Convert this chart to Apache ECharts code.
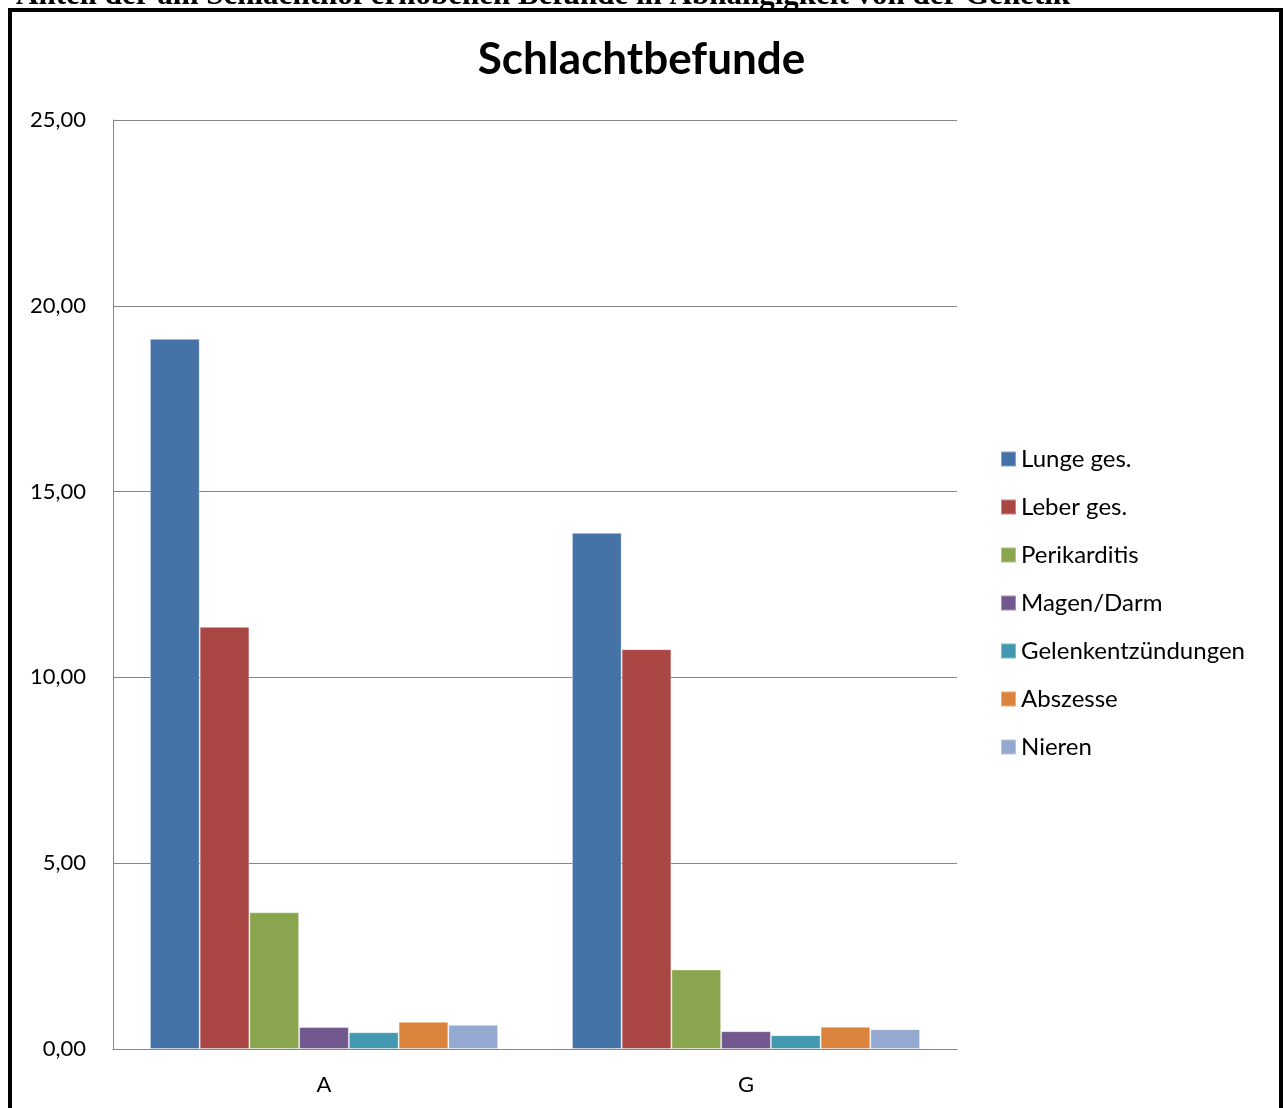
<!DOCTYPE html>
<html>
<head>
    <meta charset="utf-8"/>
    <title>Schlachtbefunde</title>
    <script src="https://cdn.jsdelivr.net/npm/echarts@6/dist/echarts.min.js"></script>
    <style>
        html, body { margin: 0; padding: 0; background: #fff; }
        #main { width: 1283px; height: 1108px; }
    </style>
</head>
<body>
<div id="main"></div>
<script type="text/javascript">
    // Daten
    var kategorien = ['A', 'G'];
    var befunde = ['Lunge ges.', 'Leber ges.', 'Perikarditis', 'Magen/Darm', 'Gelenkentzündungen', 'Abszesse', 'Nieren'];
    var lunge = [19.11, 13.89];
    var leber = [11.36, 10.76];
    var perikarditis = [3.68, 2.14];
    var magenDarm = [0.59, 0.48];
    var gelenk = [0.45, 0.37];
    var abszesse = [0.73, 0.60];
    var nieren = [0.65, 0.53];
    var yTicks = [0, 5, 10, 15, 20, 25];

    var farben = ['#4572A7', '#AA4643', '#89A54E', '#71588F', '#4198AF', '#DB843D', '#93A9CF'];
    var werte = [lunge, leber, perikarditis, magenDarm, gelenk, abszesse, nieren];

    var myChart = echarts.init(document.getElementById('main'));

    var serien = [];
    for (var i = 0; i < befunde.length; i++) {
        serien.push({
            name: befunde[i],
            type: 'bar',
            barGap: 0,
            barCategoryGap: '17.5%',
            itemStyle: {
                color: farben[i],
                borderColor: 'rgba(255,255,255,0.35)',
                borderWidth: 1
            },
            data: werte[i]
        });
    }

    var option = {
        animation: false,
        backgroundColor: '#fff',
        color: farben,
        textStyle: { fontFamily: 'Lato' },
        title: {
            text: 'Schlachtbefunde',
            left: 'center',
            top: 33,
            textStyle: {
                fontFamily: 'Lato',
                fontWeight: 'bold',
                fontSize: 44,
                color: '#000'
            }
        },
        legend: {
            orient: 'vertical',
            left: 1000,
            top: 447,
            padding: 0,
            itemWidth: 15,
            itemHeight: 15,
            itemGap: 24,
            icon: 'rect',
            textStyle: {
                fontFamily: 'Lato',
                fontSize: 24,
                lineHeight: 24,
                color: '#000'
            },
            data: befunde
        },
        grid: {
            left: 113,
            right: 326,
            top: 120,
            bottom: 59
        },
        xAxis: {
            type: 'category',
            data: kategorien,
            axisTick: { show: false },
            axisLine: { lineStyle: { color: '#868686', width: 1 } },
            axisLabel: {
                margin: 25,
                fontFamily: 'Lato',
                fontSize: 22,
                color: '#000'
            }
        },
        yAxis: {
            type: 'value',
            min: yTicks[0],
            max: yTicks[yTicks.length - 1],
            interval: 5,
            axisLine: { show: true, lineStyle: { color: '#868686', width: 1 } },
            axisTick: { show: false },
            splitLine: { lineStyle: { color: '#868686', width: 1 } },
            axisLabel: {
                margin: 27,
                fontFamily: 'Lato',
                fontSize: 22,
                color: '#000',
                formatter: function (v) { return v.toFixed(2).replace('.', ','); }
            }
        },
        graphic: [
            {
                // Rahmen
                type: 'rect',
                shape: { x: 10, y: 10, width: 1271, height: 1120 },
                style: { fill: 'none', stroke: '#000', lineWidth: 4 },
                silent: true
            },
            {
                // abgeschnittene Überschrift oben
                type: 'text',
                x: 16,
                y: 11,
                style: {
                    text: 'Anteil der am Schlachthof erhobenen Befunde in Abhängigkeit von der Genetik',
                    fontFamily: 'Liberation Serif',
                    fontWeight: 'bold',
                    fontSize: 31,
                    fill: '#000',
                    align: 'left',
                    verticalAlign: 'bottom'
                },
                silent: true
            }
        ],
        series: serien
    };
    myChart.setOption(option);
</script>
</body>
</html>
